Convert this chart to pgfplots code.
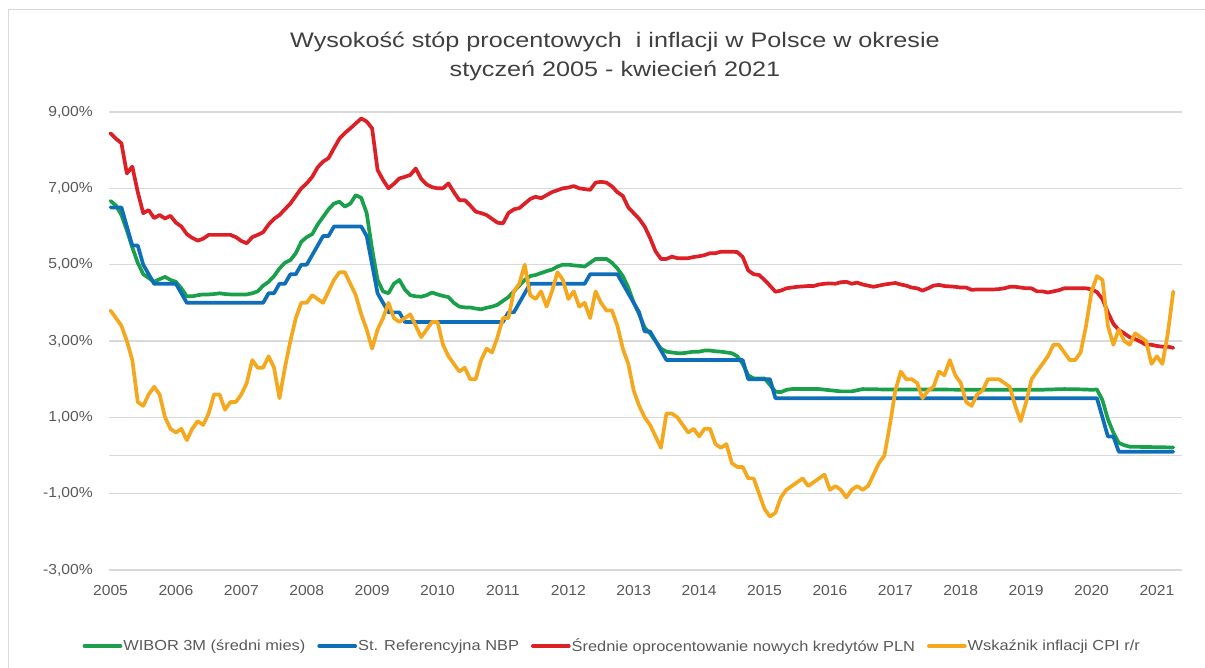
\documentclass[border=0pt]{standalone}
\usepackage{pgfplots}
\pgfplotsset{compat=1.18}
\usepackage{fontspec}
\setmainfont{Liberation Sans}
\newfontfamily\titlefont[FakeStretch=1.2]{Liberation Sans}
\newfontfamily\legfont[FakeStretch=1.13]{Liberation Sans}
\newfontfamily\tickfont[FakeStretch=1.08]{Liberation Sans}
\definecolor{cgreen}{HTML}{1AA04B}
\definecolor{cblue}{HTML}{0F6EB8}
\definecolor{cred}{HTML}{DD1F26}
\definecolor{cyellow}{HTML}{F5A81E}
\definecolor{gridc}{HTML}{D9D9D9}
\definecolor{labc}{HTML}{595959}
\definecolor{titc}{HTML}{404040}
\begin{document}
\begin{tikzpicture}[x=1pt,y=1pt]
\useasboundingbox (0,0) rectangle (1205,668);
\draw[gray!30, line width=1pt] (8,-5) -- (8,658) -- (1210,658);
\node[anchor=base, text=titc, font=\titlefont\fontsize{21}{25}\selectfont] at (615,620) {Wysokość stóp procentowych~ i inflacji w Polsce w okresie};
\node[anchor=base, text=titc, font=\titlefont\fontsize{21}{25}\selectfont] at (615,591) {styczeń 2005 - kwiecień 2021};
\begin{axis}[
  at={(109pt,98pt)}, anchor=south west,
  width=1073pt, height=458pt, scale only axis,
  xmin=-0.28, xmax=196.6, ymin=-3, ymax=9,
  clip=false,
  axis line style={draw=none},
  major tick length=0pt,
  ytick={-3,-1,1,3,5,7,9},
  yticklabels={{-3,00\%},{-1,00\%},{1,00\%},{3,00\%},{5,00\%},{7,00\%},{9,00\%}},
  extra y ticks={0}, extra y tick labels={},
  extra y tick style={ymajorgrids=true},
  ymajorgrids,
  grid style={color=gridc, line width=1.2pt},
  xtick={0,12,...,192},
  xticklabels={2005,2006,2007,2008,2009,2010,2011,2012,2013,2014,2015,2016,2017,2018,2019,2020,2021},
  tick label style={font=\tickfont\fontsize{14.5}{16}\selectfont, text=labc},
  xticklabel style={anchor=north, inner sep=0pt, yshift=-15pt},
  yticklabel style={anchor=east, inner sep=0pt, xshift=-16pt},
  legend columns=4,
  legend style={at={(axis description cs:0.4685,-0.166)}, anchor=center, draw=none, fill=none,
    font=\legfont\fontsize{14.5}{16}\selectfont, text=labc,
    nodes={inner xsep=1pt},
    /tikz/every even column/.append style={column sep=11pt}},
  legend image code/.code={\draw[#1] (0pt,0pt) -- (36pt,0pt);},
  every axis plot/.append style={line width=3.7pt, line join=round, line cap=round},
]
% WIBOR 3M
\addplot[color=cgreen] table {
m v
0 6.67
1 6.55
2 6.3
3 5.9
4 5.45
5 5.05
6 4.75
7 4.65
8 4.55
9 4.62
10 4.68
11 4.6
12 4.55
13 4.38
14 4.17
15 4.17
16 4.2
17 4.22
18 4.22
19 4.23
20 4.25
21 4.23
22 4.22
23 4.22
24 4.22
25 4.22
26 4.25
27 4.3
28 4.45
29 4.55
30 4.7
31 4.9
32 5.05
33 5.12
34 5.3
35 5.6
36 5.72
37 5.8
38 6.05
39 6.25
40 6.45
41 6.6
42 6.65
43 6.52
44 6.6
45 6.82
46 6.75
47 6.35
48 5.4
49 4.6
50 4.3
51 4.25
52 4.5
53 4.6
54 4.35
55 4.2
56 4.17
57 4.16
58 4.2
59 4.27
60 4.22
61 4.18
62 4.15
63 4.0
64 3.9
65 3.88
66 3.88
67 3.85
68 3.83
69 3.87
70 3.9
71 3.95
72 4.05
73 4.15
74 4.3
75 4.45
76 4.6
77 4.7
78 4.73
79 4.78
80 4.83
81 4.87
82 4.95
83 5.0
84 5.0
85 4.98
86 4.97
87 4.95
88 5.05
89 5.15
90 5.15
91 5.15
92 5.05
93 4.9
94 4.7
95 4.4
96 4.0
97 3.7
98 3.35
99 3.2
100 3.0
101 2.8
102 2.72
103 2.7
104 2.68
105 2.68
106 2.7
107 2.72
108 2.72
109 2.75
110 2.75
111 2.73
112 2.72
113 2.7
114 2.68
115 2.6
116 2.4
117 2.1
118 2.02
119 2.02
120 2.02
121 1.85
122 1.67
123 1.66
124 1.72
125 1.74
126 1.74
130 1.74
134 1.68
136 1.68
138 1.74
142 1.73
150 1.73
160 1.72
170 1.72
175 1.74
179 1.73
180 1.72
181 1.73
182 1.45
183 0.95
184 0.6
185 0.33
186 0.27
187 0.23
195 0.21
};
\addlegendentry{WIBOR 3M (średni mies)}
% NBP reference rate
\addplot[color=cblue] table {
m v
0 6.5
2 6.5
3 6.0
4 5.5
5 5.5
6 5.0
7 4.75
8 4.5
12 4.5
13 4.25
14 4.0
28 4.0
29 4.25
30 4.25
31 4.5
32 4.5
33 4.75
34 4.75
35 5.0
36 5.0
37 5.25
38 5.5
39 5.75
40 5.75
41 6.0
46 6.0
47 5.75
48 5.0
49 4.25
50 4.0
51 3.75
53 3.75
54 3.5
72 3.5
73 3.75
74 3.75
75 4.0
76 4.25
77 4.5
87 4.5
88 4.75
93 4.75
94 4.5
95 4.25
96 4.0
97 3.75
98 3.25
99 3.25
100 3.0
101 2.75
102 2.5
116 2.5
117 2.0
121 2.0
122 1.5
181 1.5
182 1.0
183 0.5
184 0.5
185 0.1
195 0.1
};
\addlegendentry{St. Referencyjna NBP}
% average rate on new PLN loans
\addplot[color=cred] table {
m v
0 8.44
1 8.3
2 8.18
3 7.39
4 7.57
5 6.9
6 6.35
7 6.43
8 6.22
9 6.30
10 6.21
11 6.28
12 6.1
13 6.0
14 5.8
15 5.7
16 5.63
17 5.68
18 5.78
20 5.78
22 5.78
23 5.72
24 5.62
25 5.56
26 5.72
27 5.78
28 5.85
29 6.05
30 6.2
31 6.30
32 6.45
33 6.6
34 6.8
35 7.0
36 7.13
37 7.3
38 7.55
39 7.70
40 7.79
41 8.05
42 8.3
43 8.45
44 8.57
45 8.7
46 8.83
47 8.75
48 8.57
49 7.48
50 7.22
51 7.0
52 7.12
53 7.26
54 7.3
55 7.35
56 7.52
57 7.25
58 7.1
59 7.03
60 7.0
61 7.0
62 7.13
63 6.9
64 6.69
65 6.69
66 6.55
67 6.39
68 6.35
69 6.30
70 6.2
71 6.1
72 6.08
73 6.35
74 6.45
75 6.48
76 6.6
77 6.72
78 6.78
79 6.74
80 6.82
81 6.9
82 6.95
83 7.0
84 7.02
85 7.06
86 7.0
87 6.98
88 6.96
89 7.15
90 7.17
91 7.15
92 7.05
93 6.9
94 6.8
95 6.5
96 6.35
97 6.2
98 6.0
99 5.7
100 5.35
101 5.15
102 5.15
103 5.21
104 5.17
105 5.17
106 5.17
107 5.2
108 5.22
109 5.25
110 5.3
111 5.3
112 5.34
113 5.34
114 5.34
115 5.33
116 5.2
117 4.85
118 4.75
119 4.73
120 4.6
121 4.45
122 4.29
123 4.32
124 4.38
125 4.4
126 4.42
127 4.43
128 4.44
129 4.44
130 4.48
131 4.5
132 4.51
133 4.5
134 4.54
135 4.55
136 4.5
137 4.53
138 4.48
139 4.45
140 4.42
141 4.45
142 4.48
143 4.5
144 4.52
145 4.48
146 4.45
147 4.4
148 4.38
149 4.32
150 4.38
151 4.45
152 4.47
153 4.44
154 4.43
155 4.42
156 4.40
157 4.40
158 4.34
159 4.35
160 4.35
161 4.35
162 4.35
163 4.36
164 4.38
165 4.42
166 4.42
167 4.4
168 4.38
169 4.38
170 4.3
171 4.3
172 4.27
173 4.3
174 4.33
175 4.38
176 4.38
177 4.38
178 4.38
179 4.38
180 4.35
181 4.28
182 4.1
183 3.75
184 3.45
185 3.29
186 3.2
187 3.1
188 3.05
189 2.98
190 2.9
191 2.9
192 2.87
193 2.85
194 2.85
195 2.82
};
\addlegendentry{Średnie oprocentowanie nowych kredytów PLN}
% CPI
\addplot[color=cyellow] table {
m v
0 3.8
1 3.6
2 3.4
3 3.0
4 2.5
5 1.4
6 1.3
7 1.6
8 1.8
9 1.6
10 1.0
11 0.7
12 0.6
13 0.7
14 0.4
15 0.7
16 0.9
17 0.8
18 1.1
19 1.6
20 1.6
21 1.2
22 1.4
23 1.4
24 1.6
25 1.9
26 2.5
27 2.3
28 2.3
29 2.6
30 2.3
31 1.5
32 2.3
33 3.0
34 3.6
35 4.0
36 4.0
37 4.2
38 4.1
39 4.0
40 4.3
41 4.6
42 4.8
43 4.8
44 4.5
45 4.2
46 3.7
47 3.3
48 2.8
49 3.3
50 3.6
51 4.0
52 3.6
53 3.5
54 3.6
55 3.7
56 3.4
57 3.1
58 3.3
59 3.5
60 3.5
61 2.9
62 2.6
63 2.4
64 2.2
65 2.3
66 2.0
67 2.0
68 2.5
69 2.8
70 2.7
71 3.1
72 3.6
73 3.6
74 4.3
75 4.5
76 5.0
77 4.2
78 4.1
79 4.3
80 3.9
81 4.3
82 4.8
83 4.6
84 4.1
85 4.3
86 3.9
87 4.0
88 3.6
89 4.3
90 4.0
91 3.8
92 3.8
93 3.4
94 2.8
95 2.4
96 1.7
97 1.3
98 1.0
99 0.8
100 0.5
101 0.2
102 1.1
103 1.1
104 1.0
105 0.8
106 0.6
107 0.7
108 0.5
109 0.7
110 0.7
111 0.3
112 0.2
113 0.3
114 -0.2
115 -0.3
116 -0.3
117 -0.6
118 -0.6
119 -1.0
120 -1.4
121 -1.6
122 -1.5
123 -1.1
124 -0.9
125 -0.8
126 -0.7
127 -0.6
128 -0.8
129 -0.7
130 -0.6
131 -0.5
132 -0.9
133 -0.8
134 -0.9
135 -1.1
136 -0.9
137 -0.8
138 -0.9
139 -0.8
140 -0.5
141 -0.2
142 0.0
143 0.8
144 1.7
145 2.2
146 2.0
147 2.0
148 1.9
149 1.5
150 1.7
151 1.8
152 2.2
153 2.1
154 2.5
155 2.1
156 1.9
157 1.4
158 1.3
159 1.6
160 1.7
161 2.0
162 2.0
163 2.0
164 1.9
165 1.8
166 1.3
167 0.9
168 1.4
169 2.0
170 2.2
171 2.4
172 2.6
173 2.9
174 2.9
175 2.7
176 2.5
177 2.5
178 2.7
179 3.4
180 4.3
181 4.7
182 4.6
183 3.4
184 2.9
185 3.3
186 3.0
187 2.9
188 3.2
189 3.1
190 3.0
191 2.4
192 2.6
193 2.4
194 3.2
195 4.3
};
\addlegendentry{Wskaźnik inflacji CPI r/r}
\end{axis}
\end{tikzpicture}
\end{document}
